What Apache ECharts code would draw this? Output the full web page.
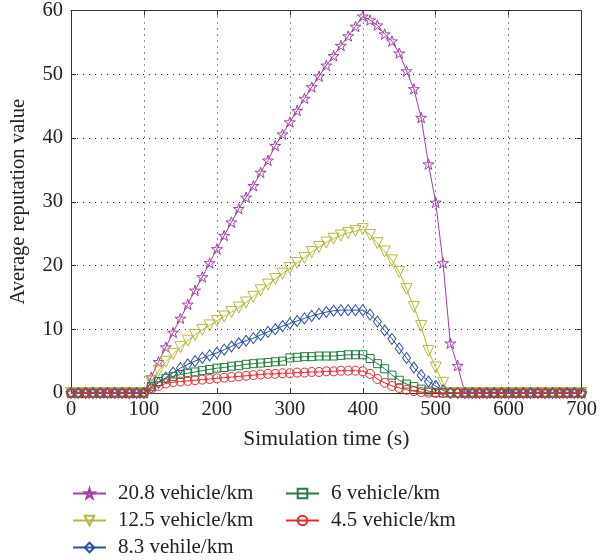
<!DOCTYPE html>
<html>
<head>
<meta charset="utf-8">
<script src="https://cdn.jsdelivr.net/npm/echarts@6/dist/echarts.min.js"></script>
<style>html,body{margin:0;padding:0;background:#fff}#c{width:600px;height:560px}</style>
</head>
<body>
<div id="c"></div>
<script>
// Simulation time (s)
const time = [0,10,20,30,40,50,60,70,80,90,100,110,120,130,140,150,160,170,180,190,200,
  210,220,230,240,250,260,270,280,290,300,310,320,330,340,350,360,370,380,390,400,
  410,420,430,440,450,460,470,480,490,500,510,520,530,540,550,560,570,580,590,600,
  610,620,630,640,650,660,670,680,690,700];

const names = ["20.8 vehicle/km","12.5 vehicle/km","8.3 vehile/km","6 vehicle/km","4.5 vehicle/km"];

const v208 = [0,0,0,0,0,0,0,0,0,0,0,
  2.5,4.9,7.2,9.5,11.7,13.9,16.1,18.2,20.4,22.6,
  24.7,26.8,28.9,30.7,32.5,34.6,36.5,38.8,40.6,42.5,
  44.3,46.2,48.0,49.7,51.4,52.9,54.5,56.0,57.5,59.1,
  58.5,57.7,56.3,55.2,53.3,50.5,47.7,43.2,35.9,29.9,
  20.4,7.8,4.3,
  0,0,0,0,0,0,0,0,0,0,0,0,0,0,0,0,0];

const v125 = [0,0,0,0,0,0,0,0,0,0,0,
  1.8,3.5,4.9,6.1,7.2,8.2,9.1,9.9,10.6,11.3,
  12.0,12.7,13.4,14.2,15.1,16.1,17.0,17.9,18.7,19.6,
  20.4,21.2,22.1,22.9,23.6,24.2,24.7,25.1,25.4,25.7,
  24.8,23.5,22.2,20.8,19.0,16.3,13.5,10.5,6.6,4.0,
  1.6,
  0,0,0,0,0,0,0,0,0,0,0,0,0,0,0,0,0,0,0];

const v83 = [0,0,0,0,0,0,0,0,0,0,0,
  0.8,1.6,2.4,3.2,3.9,4.5,5.0,5.5,5.9,6.3,
  6.8,7.3,7.8,8.2,8.6,9.1,9.6,10.0,10.5,10.9,
  11.3,11.7,12.1,12.4,12.7,12.9,13.0,13.0,13.0,13.0,
  12.3,11.2,9.8,8.5,7.0,5.5,4.0,2.8,1.8,1.1,
  0.4,
  0,0,0,0,0,0,0,0,0,0,0,0,0,0,0,0,0,0,0];

const v6 = [0,0,0,0,0,0,0,0,0,0,0,
  1.0,1.8,2.3,2.6,2.9,3.1,3.3,3.5,3.7,3.9,
  4.0,4.2,4.3,4.5,4.6,4.7,4.8,4.9,5.0,5.5,
  5.6,5.7,5.7,5.8,5.8,5.8,5.9,6.0,6.0,6.0,
  5.4,4.6,3.8,2.8,2.0,1.4,1.0,0.6,0.3,0.1,
  0,0,0,0,0,0,0,0,0,0,0,0,0,0,0,0,0,0,0,0];

const v45 = [0,0,0,0,0,0,0,0,0,0,0,
  0.6,1.1,1.5,1.7,1.8,1.9,2.0,2.1,2.2,2.3,
  2.4,2.5,2.6,2.7,2.8,2.9,3.0,3.0,3.1,3.1,
  3.2,3.2,3.3,3.3,3.4,3.4,3.5,3.5,3.5,3.4,
  3.0,2.2,1.6,1.1,0.8,0.5,0.3,0.15,0.05,0,
  0,0,0,0,0,0,0,0,0,0,0,0,0,0,0,0,0,0,0,0];

const xTicks = [0,100,200,300,400,500,600,700];
const yTicks = [0,10,20,30,40,50,60];

// star glyph path
function starPath() {
  let d = '';
  for (let k = 0; k < 10; k++) {
    const r = (k % 2 === 0) ? 50 : 19;
    const a = (-90 + 36 * k) * Math.PI / 180;
    const x = (50 + r * Math.cos(a)).toFixed(2);
    const y = (50 + r * Math.sin(a)).toFixed(2);
    d += (k === 0 ? 'M' : 'L') + x + ' ' + y + ' ';
  }
  return 'path://' + d + 'Z';
}

const colors = ['#a040a0', '#b8b83a', '#2c4fa3', '#1f7f3c', '#e8282b'];
const symbols = [starPath(), 'triangle', 'diamond', 'rect', 'circle'];
const sizes = [11, 11, [8, 11], 8, 9];
const rots = [0, 180, 0, 0, 0];
const values = [v208, v125, v83, v6, v45];

const FONT = '"Liberation Serif", "DejaVu Serif", serif';
const TXT = '#222';

const series = values.map((vals, i) => ({
  name: names[i],
  type: 'line',
  data: time.map((t, j) => [t, vals[j]]),
  symbol: symbols[i],
  symbolSize: sizes[i],
  symbolRotate: rots[i],
  symbolKeepAspect: true,
  showSymbol: true,
  clip: false,
  z: 2 + i,
  lineStyle: { color: colors[i], width: 1 },
  itemStyle: { color: 'rgba(255,255,255,0)', borderColor: colors[i], borderWidth: 1 },
  emphasis: { disabled: true }
}));

const axisLineStyle = { color: '#333', width: 1 };
const splitStyle = { color: '#222', width: 1, type: [1, 5] };

const legendCommon = {
  orient: 'vertical', top: 483, padding: 0,
  itemWidth: 33, itemHeight: 12, itemGap: 6,
  textStyle: { fontFamily: FONT, fontSize: 21, lineHeight: 20, color: TXT, padding: [0, 0, 0, 7] },
  selectedMode: false
};

const option = {
  animation: false,
  backgroundColor: '#fff',
  grid: { left: 68, right: 14, top: 9, bottom: 167, show: false },
  xAxis: [{
    type: 'value', min: xTicks[0], max: xTicks[xTicks.length - 1], interval: 100,
    position: 'bottom',
    name: 'Simulation time (s)', nameLocation: 'middle', nameGap: 35,
    nameTextStyle: { fontFamily: FONT, fontSize: 21.5, color: TXT },
    axisLine: { show: true, onZero: false, lineStyle: axisLineStyle },
    axisTick: { show: true, inside: true, length: 5, lineStyle: axisLineStyle },
    axisLabel: { fontFamily: FONT, fontSize: 20.5, color: TXT, margin: 6 },
    splitLine: { show: true, lineStyle: splitStyle }
  }, {
    type: 'value', min: xTicks[0], max: xTicks[xTicks.length - 1], interval: 100,
    position: 'top',
    axisLine: { show: true, onZero: false, lineStyle: axisLineStyle },
    axisTick: { show: true, inside: true, length: 5, lineStyle: axisLineStyle },
    axisLabel: { show: false },
    splitLine: { show: false }
  }],
  yAxis: [{
    type: 'value', min: yTicks[0], max: yTicks[yTicks.length - 1], interval: 10,
    position: 'left',
    name: 'Average reputation value', nameLocation: 'middle', nameGap: 42,
    nameTextStyle: { fontFamily: FONT, fontSize: 20.5, color: TXT },
    axisLine: { show: true, onZero: false, lineStyle: axisLineStyle },
    axisTick: { show: true, inside: true, length: 5, lineStyle: axisLineStyle },
    axisLabel: { fontFamily: FONT, fontSize: 20.5, color: TXT, margin: 8 },
    splitLine: { show: true, lineStyle: splitStyle }
  }, {
    type: 'value', min: yTicks[0], max: yTicks[yTicks.length - 1], interval: 10,
    position: 'right',
    axisLine: { show: true, onZero: false, lineStyle: axisLineStyle },
    axisTick: { show: true, inside: true, length: 5, lineStyle: axisLineStyle },
    axisLabel: { show: false },
    splitLine: { show: false }
  }],
  legend: [
    Object.assign({}, legendCommon, { data: names.slice(0, 3), left: 72 }),
    Object.assign({}, legendCommon, { data: names.slice(3), left: 285 })
  ],
  series: series
};

const chart = echarts.init(document.getElementById('c'), null, { renderer: 'canvas' });
chart.setOption(option);
</script>
</body>
</html>
